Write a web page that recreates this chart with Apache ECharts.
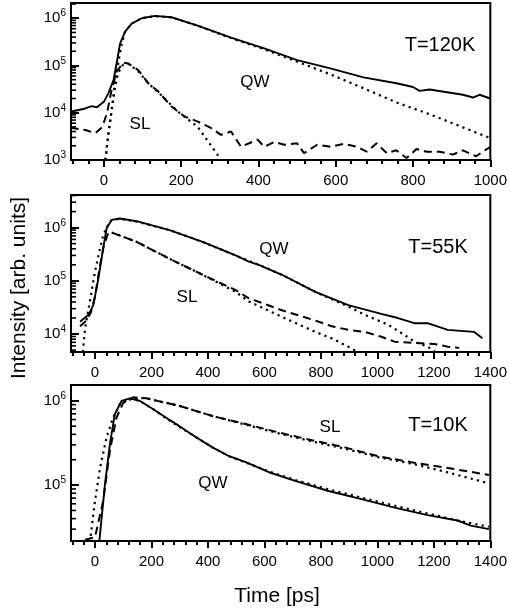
<!DOCTYPE html>
<html><head><meta charset="utf-8">
<script src="https://cdn.jsdelivr.net/npm/echarts@6/dist/echarts.min.js"></script>
<style>html,body{margin:0;padding:0;background:#fff}#c{width:510px;height:612px}</style>
</head><body><div id="c"></div>
<script>
// ---------- data (time in ps, intensity in arb. units) ----------
const xTicks120 = [0, 200, 400, 600, 800, 1000];
const xTicksLong = [0, 200, 400, 600, 800, 1000, 1200, 1400];
const yDecades120 = [1e3, 1e4, 1e5, 1e6];
const yDecades55 = [1e4, 1e5, 1e6];
const yDecades10 = [1e5, 1e6];

// T = 120 K
const qw120 = [[-86,1.05e4],[-48,1.23e4],[-31,1.38e4],[-18,1.3e4],[0,1.7e4],[12,2.6e4],[25,4.9e4],[33,1.1e5],[42,2.9e5],[55,5.2e5],[72,7.7e5],[98,1.0e6],[132,1.12e6],[175,1.05e6],[243,7.0e5],[329,3.9e5],[415,2.3e5],[500,1.3e5],[586,8.7e4],[672,5.6e4],[757,4.2e4],[800,3.5e4],[817,2.9e4],[843,3.1e4],[929,2.4e4],[955,2.1e4],[972,2.4e4],[1000,2.0e4]];
const sl120 = [[-86,4.8e3],[-48,4.3e3],[-22,3.7e3],[-4,5.0e3],[8,9.7e3],[20,3.0e4],[33,7.4e4],[50,1.15e5],[63,1.1e5],[89,8e4],[115,4.2e4],[141,2.8e4],[175,1.35e4],[209,8.3e3],[243,6.5e3],[278,4.7e3],[303,3.4e3],[329,4.0e3],[355,1.9e3],[398,2.7e3],[415,1.9e3],[441,2.4e3],[467,2.1e3],[500,2.25e3],[518,1.4e3],[552,2.1e3],[586,1.9e3],[620,2.2e3],[655,1.9e3],[680,1.5e3],[706,2.25e3],[732,1.4e3],[757,1.6e3],[783,1.1e3],[809,1.7e3],[835,1.5e3],[869,1.5e3],[903,1.3e3],[929,1.6e3],[963,1.2e3],[1000,1.9e3]];
const qwFit120 = [[4,1e3],[12,3.7e3],[20,1.1e4],[29,4.2e4],[37,1.1e5],[45,2.6e5],[55,5.2e5],[72,7.7e5],[98,1.0e6],[132,1.1e6],[175,1.04e6],[243,6.9e5],[329,3.8e5],[415,2.2e5],[500,1.2e5],[586,6.5e4],[672,3.3e4],[757,1.65e4],[843,9.3e3],[929,4.9e3],[1000,2.9e3]];
const slFit120 = [[4,1e3],[12,3.7e3],[20,1.1e4],[29,3.5e4],[37,7e4],[50,1.05e5],[63,1.1e5],[89,7.5e4],[115,4.2e4],[141,2.7e4],[192,1.05e4],[243,5e3],[294,1.3e3],[300,1e3]];

// T = 55 K
const qw55 = [[-53,1.7e4],[-23,2.3e4],[-6,3.5e4],[12,1.1e5],[29,4.1e5],[41,9.6e5],[59,1.4e6],[88,1.48e6],[147,1.32e6],[264,9e5],[381,5.4e5],[498,3.0e5],[545,2.3e5],[580,2.0e5],[662,1.3e5],[780,6.2e4],[897,3.5e4],[1014,2.4e4],[1073,2.0e4],[1131,1.6e4],[1178,1.6e4],[1249,1.2e4],[1342,1.1e4],[1372,8.3e3]];
const sl55 = [[-53,1.4e4],[-30,1.8e4],[-15,2.5e4],[0,5e4],[15,1.6e5],[30,4.3e5],[45,7.5e5],[59,8.1e5],[147,5.4e5],[264,2.6e5],[381,1.3e5],[498,6.7e4],[545,4.7e4],[662,2.8e4],[780,1.8e4],[838,1.4e4],[897,1.2e4],[955,1.1e4],[1014,8.9e3],[1061,7.2e3],[1131,6.8e3],[1202,6.5e3],[1249,5.8e3],[1290,5.5e3]];
const qwFit55 = [[-43,4.6e3],[-35,1.3e4],[-18,4.1e4],[0,1.5e5],[18,4.1e5],[29,7.2e5],[45,1.1e6],[59,1.38e6],[88,1.47e6],[147,1.3e6],[264,9e5],[381,5.4e5],[498,3.0e5],[580,2.0e5],[662,1.3e5],[780,6.2e4],[897,3.3e4],[955,2.3e4],[1038,1.5e4],[1096,9.6e3],[1131,7.2e3],[1178,5.8e3],[1205,4.6e3]];
const slFit55 = [[59,8.1e5],[147,5.4e5],[264,2.6e5],[381,1.3e5],[498,6.2e4],[545,4.1e4],[662,2.1e4],[780,1.1e4],[838,8.3e3],[897,5.8e3],[930,4.6e3]];

// T = 10 K
const qw10 = [[15,2.1e4],[35,1.0e5],[53,3.1e5],[70,6.9e5],[94,1.0e6],[123,1.07e6],[158,1.0e6],[205,8.0e5],[252,6.3e5],[299,5.0e5],[358,3.7e5],[416,2.8e5],[475,2.2e5],[534,1.87e5],[616,1.42e5],[709,1.12e5],[827,8.5e4],[944,6.8e4],[1061,5.4e4],[1178,4.4e4],[1284,3.8e4],[1331,3.3e4],[1395,3.0e4]];
const sl10 = [[-35,2.25e4],[0,2.4e4],[29,6.5e4],[53,2.6e5],[76,6.3e5],[100,9.5e5],[135,1.1e6],[182,1.07e6],[299,8.7e5],[416,6.6e5],[534,5.3e5],[651,4.2e5],[768,3.4e5],[885,2.8e5],[1002,2.2e5],[1120,1.87e5],[1237,1.62e5],[1395,1.32e5]];
const qwFit10 = [[-18,2.1e4],[0,6.5e4],[18,1.6e5],[41,3.7e5],[64,6.3e5],[88,9.1e5],[123,1.07e6],[158,1.0e6],[205,8.0e5],[252,6.2e5],[299,4.9e5],[358,3.7e5],[416,2.8e5],[475,2.2e5],[534,1.85e5],[616,1.45e5],[709,1.15e5],[827,8.9e4],[944,7.1e4],[1061,5.7e4],[1178,4.6e4],[1284,3.8e4],[1395,3.2e4]];
const slFit10 = [[100,9.5e5],[135,1.08e6],[182,1.07e6],[299,8.7e5],[416,6.6e5],[534,5.2e5],[651,4.1e5],[768,3.3e5],[885,2.7e5],[1002,2.15e5],[1120,1.8e5],[1237,1.45e5],[1395,1.05e5]];

// ---------- layout ----------
const FONT = 'Liberation Sans, Arial, Helvetica, sans-serif';
const panels = [
  {top: 3,   height: 157, xMin: -85, xMax: 1000, yMin: 999,    yMax: 2.1e6,  xLab: xTicks120,  yLab: yDecades120,
   series: [qw120, sl120, qwFit120, slFit120]},
  {top: 195, height: 157, xMin: -85, xMax: 1400, yMin: 4.6e3,  yMax: 4.1e6,  xLab: xTicksLong, yLab: yDecades55,
   series: [qw55, sl55, qwFit55, slFit55]},
  {top: 385, height: 156, xMin: -85, xMax: 1400, yMin: 2.17e4, yMax: 1.54e6, xLab: xTicksLong, yLab: yDecades10,
   series: [qw10, sl10, qwFit10, slFit10]}
];

// log minor tick values (2..9 x 10^n) inside a range
function minorLog(min, max) {
  const out = [];
  for (let e = Math.floor(Math.log10(min)); e <= Math.ceil(Math.log10(max)); e++) {
    for (let k = 2; k <= 9; k++) { const v = k * Math.pow(10, e); if (v > min && v < max) out.push(v); }
  }
  return out;
}
function minorLin(min, max, step) {
  const out = [];
  for (let v = Math.ceil(min / step) * step; v <= max; v += step) out.push(v);
  return out;
}

const styles = [
  {width: 1.9, type: 'solid'},
  {width: 2, type: [8, 5]},
  {width: 2.2, type: [2.2, 4.2]},
  {width: 2.2, type: [2.2, 4.2]}
];

const grid = [], xAxis = [], yAxis = [], series = [];
panels.forEach((p, i) => {
  grid.push({left: 71, width: 423, top: p.top, height: p.height, show: true,
    borderColor: '#000', borderWidth: 2, backgroundColor: 'transparent'});
  xAxis.push({type: 'value', gridIndex: i, position: 'bottom', min: p.xMin, max: p.xMax,
    axisLine: {show: true, onZero: false, lineStyle: {color: '#000', width: 2}},
    axisTick: {show: true, inside: false, length: 7, customValues: p.xLab, lineStyle: {color: '#000', width: 2}},
    axisLabel: {customValues: p.xLab, color: '#000', fontSize: 15, margin: 13, fontFamily: FONT,
      formatter: v => String(v)},
    splitLine: {show: false}});
  xAxis.push({type: 'value', gridIndex: i, position: 'bottom', min: p.xMin, max: p.xMax,
    axisLine: {show: false, onZero: false},
    axisTick: {show: true, inside: false, length: 4, customValues: minorLin(p.xMin, p.xMax, 40), lineStyle: {color: '#000', width: 2}},
    axisLabel: {show: false}, splitLine: {show: false}});
  yAxis.push({type: 'log', logBase: 10, gridIndex: i, position: 'left', min: p.yMin, max: p.yMax,
    axisLine: {show: true, onZero: false, lineStyle: {color: '#000', width: 2}},
    axisTick: {show: true, inside: true, length: 8, customValues: p.yLab, lineStyle: {color: '#000', width: 2}},
    axisLabel: {customValues: p.yLab, margin: 5, color: '#000', fontFamily: FONT,
      formatter: v => '{b|10}{s|' + Math.round(Math.log10(v)) + '}',
      rich: {b: {fontSize: 15, fontFamily: FONT, color: '#000'},
             s: {fontSize: 10, fontFamily: FONT, color: '#000', padding: [0, 0, 9, 0]}}},
    splitLine: {show: false}});
  p.series.forEach((d, k) => {
    series.push({type: 'line', xAxisIndex: 2 * i, yAxisIndex: i, data: d, symbol: 'none',
      silent: true, clip: true, z: 2 + k,
      lineStyle: {color: '#000', width: styles[k].width, type: styles[k].type}});
  });
  // minor y ticks (inside), placed through the log axis scale
  const minorVals = minorLog(p.yMin, p.yMax).map(v => [p.xMin, v]);
  series.push({type: 'custom', xAxisIndex: 2 * i, yAxisIndex: i, data: minorVals, silent: true, z: 10,
    encode: {x: 0, y: 1},
    renderItem: (params, api) => {
      const pt = api.coord([api.value(0), api.value(1)]);
      return {type: 'line', shape: {x1: pt[0], y1: pt[1], x2: pt[0] + 5, y2: pt[1]},
        style: {stroke: '#000', lineWidth: 1.6}};
    }});
});

function txt(text, x, y, size, rot) {
  return {type: 'text', x: x, y: y, rotation: rot || 0, z: 100,
    style: {text: text, fill: '#000', fontSize: size, fontFamily: FONT, align: 'center', verticalAlign: 'middle'}};
}

const chart = echarts.init(document.getElementById('c'), null, {renderer: 'canvas'});
chart.setOption({
  animation: false,
  backgroundColor: '#fff',
  grid: grid, xAxis: xAxis, yAxis: yAxis, series: series,
  graphic: [
    txt('T=120K', 440, 45, 20), txt('QW', 255, 82, 17), txt('SL', 140, 124, 17),
    txt('T=55K', 438, 247, 20), txt('QW', 274, 249, 17), txt('SL', 187, 297, 17),
    txt('T=10K', 438, 425, 20), txt('SL', 330, 427, 17), txt('QW', 213, 483, 17),
    txt('Intensity [arb. units]', 19, 288, 21, Math.PI / 2),
    txt('Time [ps]', 277, 596, 21)
  ]
});
</script></body></html>
